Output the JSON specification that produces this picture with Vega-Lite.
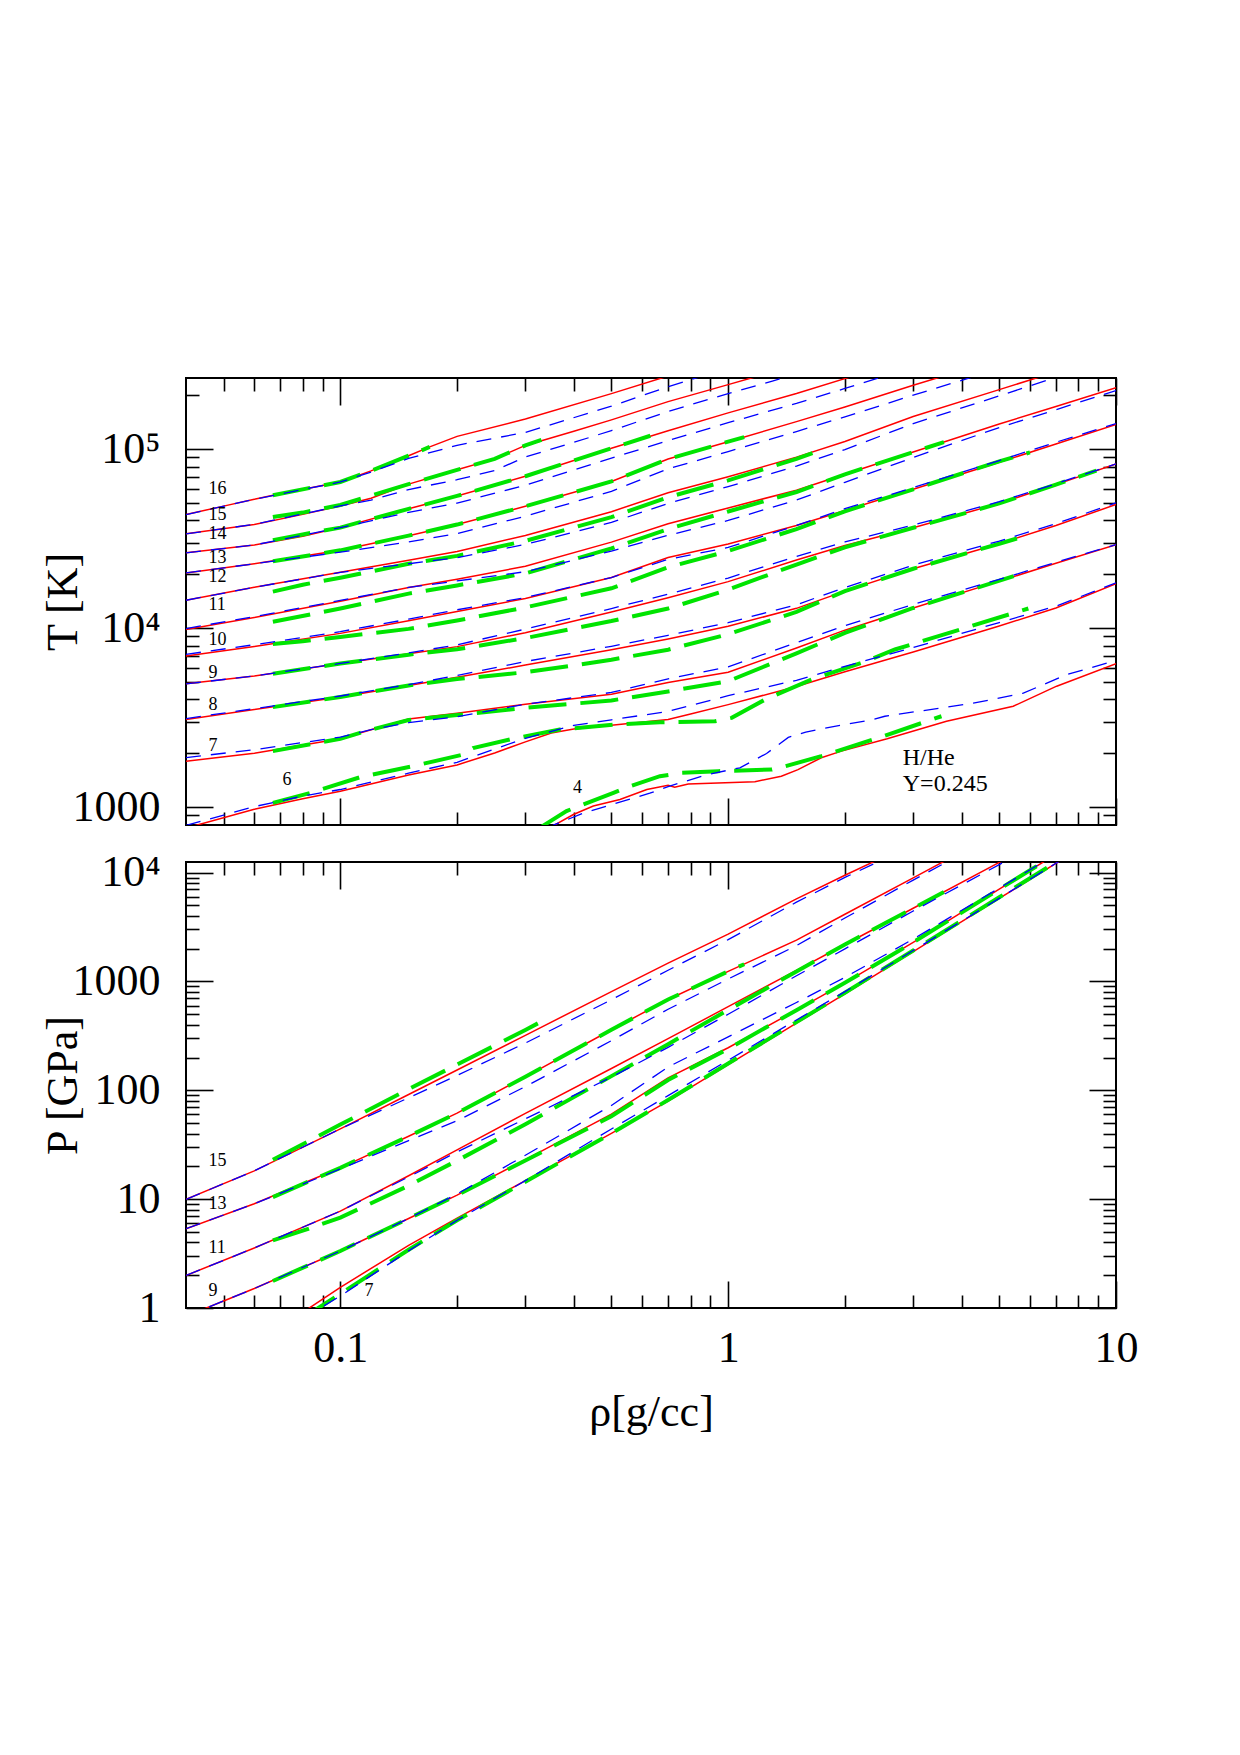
{
  "$schema": "https://vega.github.io/schema/vega-lite/v6.json",
  "autosize": {"type": "none"},
  "padding": {"left": 186, "top": 378, "right": 1054, "bottom": 1377},
  "background": "white",
  "config": {
    "view": {"stroke": "#000000", "strokeWidth": 2},
    "font": "Liberation Serif",
    "axis": {
      "grid": false,
      "domain": false,
      "labels": false,
      "tickColor": "#000000",
      "tickWidth": 1.6,
      "labelFont": "Liberation Serif",
      "labelFontSize": 44,
      "labelColor": "#000000",
      "titleFont": "Liberation Serif",
      "titleFontSize": 44,
      "titleFontWeight": "normal",
      "titleColor": "#000000",
      "labelFlush": false,
      "labelOverlap": false,
      "labelBound": false
    }
  },
  "datasets": {
    "tA": [
      {"s":16,"rho":0.04,"t":43150},{"s":16,"rho":0.05,"t":48100},{"s":16,"rho":0.06,"t":52480},{"s":16,"rho":0.07,"t":56400},{"s":16,"rho":0.1,"t":65600},{"s":16,"rho":0.12,"t":75700},{"s":16,"rho":0.15,"t":92000},{"s":16,"rho":0.17,"t":103000},{"s":16,"rho":0.2,"t":118000},{"s":16,"rho":0.3,"t":147500},{"s":16,"rho":0.5,"t":204500},{"s":16,"rho":0.7,"t":256500},
      {"s":15,"rho":0.04,"t":33650},{"s":15,"rho":0.06,"t":38020},{"s":15,"rho":0.08,"t":43250},{"s":15,"rho":0.1,"t":48200},{"s":15,"rho":0.12,"t":53200},{"s":15,"rho":0.15,"t":63800},{"s":15,"rho":0.2,"t":76700},{"s":15,"rho":0.25,"t":88300},{"s":15,"rho":0.3,"t":105000},{"s":15,"rho":0.4,"t":125900},{"s":15,"rho":0.5,"t":145900},{"s":15,"rho":0.7,"t":184500},{"s":15,"rho":1,"t":229600},{"s":15,"rho":1.2,"t":257000},
      {"s":14,"rho":0.04,"t":26360},{"s":14,"rho":0.06,"t":29170},{"s":14,"rho":0.08,"t":32660},{"s":14,"rho":0.1,"t":36480},{"s":14,"rho":0.15,"t":46450},{"s":14,"rho":0.2,"t":54830},{"s":14,"rho":0.3,"t":70630},{"s":14,"rho":0.5,"t":101200},{"s":14,"rho":0.7,"t":126800},{"s":14,"rho":1,"t":159600},{"s":14,"rho":1.5,"t":204600},{"s":14,"rho":2,"t":248000},{"s":14,"rho":2.5,"t":288400},
      {"s":13,"rho":0.04,"t":20370},{"s":13,"rho":0.06,"t":22910},{"s":13,"rho":0.1,"t":27230},{"s":13,"rho":0.15,"t":32890},{"s":13,"rho":0.2,"t":37930},{"s":13,"rho":0.3,"t":47970},{"s":13,"rho":0.5,"t":66070},{"s":13,"rho":0.7,"t":88100},{"s":13,"rho":1,"t":110200},{"s":13,"rho":1.5,"t":142600},{"s":13,"rho":2,"t":172200},{"s":13,"rho":3,"t":227500},{"s":13,"rho":4,"t":275400},
      {"s":12,"rho":0.04,"t":14320},{"s":12,"rho":0.06,"t":16940},{"s":12,"rho":0.1,"t":20510},{"s":12,"rho":0.15,"t":23990},{"s":12,"rho":0.2,"t":26850},{"s":12,"rho":0.3,"t":32960},{"s":12,"rho":0.5,"t":44770},{"s":12,"rho":0.7,"t":57150},{"s":12,"rho":1,"t":70150},{"s":12,"rho":1.5,"t":90360},{"s":12,"rho":2,"t":110400},{"s":12,"rho":3,"t":152400},{"s":12,"rho":5,"t":215300},{"s":12,"rho":7,"t":270400},
      {"s":11,"rho":0.04,"t":9840},{"s":11,"rho":0.06,"t":11460},{"s":11,"rho":0.1,"t":14130},{"s":11,"rho":0.15,"t":16900},{"s":11,"rho":0.2,"t":18790},{"s":11,"rho":0.3,"t":22180},{"s":11,"rho":0.5,"t":30270},{"s":11,"rho":0.7,"t":38370},{"s":11,"rho":1,"t":46990},{"s":11,"rho":1.5,"t":59020},{"s":11,"rho":2,"t":72440},{"s":11,"rho":3,"t":96380},{"s":11,"rho":5,"t":138400},{"s":11,"rho":7,"t":173400},{"s":11,"rho":10,"t":220300},
      {"s":10,"rho":0.04,"t":6982},{"s":10,"rho":0.06,"t":7907},{"s":10,"rho":0.1,"t":9354},{"s":10,"rho":0.15,"t":10990},{"s":10,"rho":0.2,"t":12390},{"s":10,"rho":0.3,"t":14660},{"s":10,"rho":0.5,"t":19190},{"s":10,"rho":0.7,"t":24830},{"s":10,"rho":1,"t":29580},{"s":10,"rho":1.5,"t":37500},{"s":10,"rho":2,"t":45500},{"s":10,"rho":3,"t":59700},{"s":10,"rho":5,"t":84530},{"s":10,"rho":7,"t":106900},{"s":10,"rho":10,"t":137400},
      {"s":9,"rho":0.04,"t":4887},{"s":9,"rho":0.06,"t":5408},{"s":9,"rho":0.1,"t":6353},{"s":9,"rho":0.15,"t":7194},{"s":9,"rho":0.2,"t":7889},{"s":9,"rho":0.3,"t":9441},{"s":9,"rho":0.5,"t":12300},{"s":9,"rho":0.7,"t":14790},{"s":9,"rho":1,"t":18200},{"s":9,"rho":1.5,"t":24040},{"s":9,"rho":2,"t":28970},{"s":9,"rho":3,"t":36390},{"s":9,"rho":5,"t":49770},{"s":9,"rho":7,"t":63390},{"s":9,"rho":10,"t":82790},
      {"s":8,"rho":0.04,"t":3090},{"s":8,"rho":0.06,"t":3508},{"s":8,"rho":0.1,"t":4130},{"s":8,"rho":0.15,"t":4786},{"s":8,"rho":0.2,"t":5321},{"s":8,"rho":0.3,"t":6223},{"s":8,"rho":0.5,"t":7568},{"s":8,"rho":0.7,"t":8710},{"s":8,"rho":1,"t":10260},{"s":8,"rho":1.5,"t":12910},{"s":8,"rho":2,"t":16110},{"s":8,"rho":3,"t":21480},{"s":8,"rho":5,"t":29650},{"s":8,"rho":7,"t":37500},{"s":8,"rho":10,"t":49090},
      {"s":7,"rho":0.04,"t":1807},{"s":7,"rho":0.06,"t":2000},{"s":7,"rho":0.1,"t":2410},{"s":7,"rho":0.12,"t":2710},{"s":7,"rho":0.15,"t":3105},{"s":7,"rho":0.2,"t":3350},{"s":7,"rho":0.3,"t":3758},{"s":7,"rho":0.5,"t":4276},{"s":7,"rho":0.7,"t":4977},{"s":7,"rho":1,"t":5675},{"s":7,"rho":1.5,"t":7745},{"s":7,"rho":2,"t":9750},{"s":7,"rho":3,"t":12970},{"s":7,"rho":5,"t":18320},{"s":7,"rho":7,"t":23070},{"s":7,"rho":10,"t":29310},
      {"s":6,"rho":0.04,"t":764},{"s":6,"rho":0.06,"t":973},{"s":6,"rho":0.08,"t":1114},{"s":6,"rho":0.1,"t":1227},{"s":6,"rho":0.15,"t":1514},{"s":6,"rho":0.2,"t":1722},{"s":6,"rho":0.25,"t":2009},{"s":6,"rho":0.3,"t":2317},{"s":6,"rho":0.35,"t":2594},{"s":6,"rho":0.4,"t":2735},{"s":6,"rho":0.5,"t":2871},{"s":6,"rho":0.7,"t":3090},{"s":6,"rho":0.8,"t":3319},{"s":6,"rho":1,"t":3741},{"s":6,"rho":1.5,"t":4721},{"s":6,"rho":2,"t":5715},{"s":6,"rho":3,"t":7362},{"s":6,"rho":5,"t":10280},{"s":6,"rho":7,"t":12970},{"s":6,"rho":10,"t":17700},
      {"s":4,"rho":0.339,"t":750},{"s":4,"rho":0.354,"t":787},{"s":4,"rho":0.399,"t":910},{"s":4,"rho":0.449,"t":1014},{"s":4,"rho":0.526,"t":1104},{"s":4,"rho":0.617,"t":1256},{"s":4,"rho":0.7,"t":1327},{"s":4,"rho":0.728,"t":1294},{"s":4,"rho":0.789,"t":1349},{"s":4,"rho":1.172,"t":1387},{"s":4,"rho":1.371,"t":1489},{"s":4,"rho":1.514,"t":1622},{"s":4,"rho":1.738,"t":1888},{"s":4,"rho":1.959,"t":2056},{"s":4,"rho":2.57,"t":2410},{"s":4,"rho":3.656,"t":3020},{"s":4,"rho":5.433,"t":3664},{"s":4,"rho":7.031,"t":4742},{"s":4,"rho":10,"t":6324}
    ],
    "tB": [
      {"s":16,"rho":0.04,"t":43150},{"s":16,"rho":0.06,"t":52480},{"s":16,"rho":0.1,"t":65600},{"s":16,"rho":0.12,"t":74500},{"s":16,"rho":0.15,"t":88870},{"s":16,"rho":0.2,"t":105200},{"s":16,"rho":0.3,"t":124100},{"s":16,"rho":0.5,"t":174000},{"s":16,"rho":0.7,"t":223400},{"s":16,"rho":0.9,"t":264900},
      {"s":15,"rho":0.04,"t":33650},{"s":15,"rho":0.06,"t":38020},{"s":15,"rho":0.1,"t":48200},{"s":15,"rho":0.12,"t":51980},{"s":15,"rho":0.15,"t":59530},{"s":15,"rho":0.2,"t":67570},{"s":15,"rho":0.25,"t":76030},{"s":15,"rho":0.3,"t":90410},{"s":15,"rho":0.4,"t":109200},{"s":15,"rho":0.5,"t":127100},{"s":15,"rho":0.7,"t":162500},{"s":15,"rho":1,"t":204600},{"s":15,"rho":1.3,"t":240400},{"s":15,"rho":1.5,"t":262400},
      {"s":14,"rho":0.04,"t":26360},{"s":14,"rho":0.06,"t":29170},{"s":14,"rho":0.1,"t":36480},{"s":14,"rho":0.15,"t":44360},{"s":14,"rho":0.2,"t":50000},{"s":14,"rho":0.3,"t":62930},{"s":14,"rho":0.5,"t":89160},{"s":14,"rho":0.7,"t":111700},{"s":14,"rho":1,"t":140600},{"s":14,"rho":1.5,"t":180300},{"s":14,"rho":2,"t":218500},{"s":14,"rho":2.5,"t":254100},{"s":14,"rho":3,"t":287100},
      {"s":13,"rho":0.04,"t":20370},{"s":13,"rho":0.06,"t":22910},{"s":13,"rho":0.1,"t":26600},{"s":13,"rho":0.15,"t":30350},{"s":13,"rho":0.2,"t":33800},{"s":13,"rho":0.3,"t":42260},{"s":13,"rho":0.5,"t":58210},{"s":13,"rho":0.7,"t":77620},{"s":13,"rho":1,"t":97090},{"s":13,"rho":1.5,"t":125600},{"s":13,"rho":2,"t":151700},{"s":13,"rho":3,"t":200400},{"s":13,"rho":4,"t":242600},{"s":13,"rho":5,"t":281800},
      {"s":12,"rho":0.04,"t":14320},{"s":12,"rho":0.06,"t":16940},{"s":12,"rho":0.1,"t":20510},{"s":12,"rho":0.15,"t":22910},{"s":12,"rho":0.2,"t":24780},{"s":12,"rho":0.3,"t":29370},{"s":12,"rho":0.5,"t":38990},{"s":12,"rho":0.7,"t":49780},{"s":12,"rho":1,"t":61800},{"s":12,"rho":1.5,"t":80510},{"s":12,"rho":2,"t":99580},{"s":12,"rho":3,"t":139000},{"s":12,"rho":5,"t":198700},{"s":12,"rho":7,"t":252300},{"s":12,"rho":8,"t":276100},
      {"s":11,"rho":0.04,"t":9955},{"s":11,"rho":0.06,"t":11600},{"s":11,"rho":0.1,"t":14300},{"s":11,"rho":0.15,"t":16900},{"s":11,"rho":0.2,"t":18360},{"s":11,"rho":0.3,"t":20690},{"s":11,"rho":0.5,"t":26970},{"s":11,"rho":0.7,"t":33040},{"s":11,"rho":1,"t":39990},{"s":11,"rho":1.5,"t":52000},{"s":11,"rho":2,"t":65340},{"s":11,"rho":3,"t":89920},{"s":11,"rho":5,"t":132200},{"s":11,"rho":7,"t":166300},{"s":11,"rho":10,"t":212800},
      {"s":10,"rho":0.04,"t":7143},{"s":10,"rho":0.06,"t":8089},{"s":10,"rho":0.1,"t":9569},{"s":10,"rho":0.15,"t":11240},{"s":10,"rho":0.2,"t":12670},{"s":10,"rho":0.3,"t":14830},{"s":10,"rho":0.5,"t":19190},{"s":10,"rho":0.7,"t":24260},{"s":10,"rho":1,"t":28250},{"s":10,"rho":1.5,"t":37500},{"s":10,"rho":2,"t":46550},{"s":10,"rho":3,"t":61070},{"s":10,"rho":5,"t":86470},{"s":10,"rho":7,"t":109400},{"s":10,"rho":10,"t":139000},
      {"s":9,"rho":0.04,"t":4887},{"s":9,"rho":0.06,"t":5408},{"s":9,"rho":0.1,"t":6353},{"s":9,"rho":0.15,"t":7280},{"s":9,"rho":0.2,"t":8070},{"s":9,"rho":0.3,"t":9885},{"s":9,"rho":0.5,"t":12880},{"s":9,"rho":0.7,"t":15490},{"s":9,"rho":1,"t":19060},{"s":9,"rho":1.5,"t":25170},{"s":9,"rho":2,"t":30330},{"s":9,"rho":3,"t":37660},{"s":9,"rho":5,"t":50910},{"s":9,"rho":7,"t":64150},{"s":9,"rho":10,"t":82790},
      {"s":8,"rho":0.04,"t":3127},{"s":8,"rho":0.06,"t":3550},{"s":8,"rho":0.1,"t":4180},{"s":8,"rho":0.15,"t":4843},{"s":8,"rho":0.2,"t":5443},{"s":8,"rho":0.3,"t":6515},{"s":8,"rho":0.5,"t":7924},{"s":8,"rho":0.7,"t":9119},{"s":8,"rho":1,"t":10740},{"s":8,"rho":1.5,"t":13520},{"s":8,"rho":2,"t":16870},{"s":8,"rho":3,"t":22490},{"s":8,"rho":5,"t":30690},{"s":8,"rho":7,"t":38360},{"s":8,"rho":10,"t":50220},
      {"s":7,"rho":0.04,"t":1892},{"s":7,"rho":0.06,"t":2094},{"s":7,"rho":0.1,"t":2465},{"s":7,"rho":0.12,"t":2710},{"s":7,"rho":0.15,"t":2965},{"s":7,"rho":0.2,"t":3199},{"s":7,"rho":0.3,"t":3758},{"s":7,"rho":0.5,"t":4374},{"s":7,"rho":0.7,"t":5211},{"s":7,"rho":1,"t":6084},{"s":7,"rho":1.5,"t":8303},{"s":7,"rho":2,"t":10330},{"s":7,"rho":3,"t":13580},{"s":7,"rho":5,"t":18740},{"s":7,"rho":7,"t":23350},{"s":7,"rho":10,"t":29310},
      {"s":6,"rho":0.04,"t":791},{"s":6,"rho":0.06,"t":1007},{"s":6,"rho":0.08,"t":1153},{"s":6,"rho":0.1,"t":1255},{"s":6,"rho":0.15,"t":1549},{"s":6,"rho":0.2,"t":1782},{"s":6,"rho":0.3,"t":2426},{"s":6,"rho":0.4,"t":2864},{"s":6,"rho":0.5,"t":3078},{"s":6,"rho":0.7,"t":3427},{"s":6,"rho":1,"t":4197},{"s":6,"rho":1.5,"t":5117},{"s":6,"rho":2,"t":6127},{"s":6,"rho":3,"t":7796},{"s":6,"rho":5,"t":10760},{"s":6,"rho":7,"t":13270},{"s":6,"rho":10,"t":17910},
      {"s":4,"rho":0.339,"t":741},{"s":4,"rho":0.354,"t":793},{"s":4,"rho":0.423,"t":925},{"s":4,"rho":0.515,"t":1052},{"s":4,"rho":0.628,"t":1197},{"s":4,"rho":0.7,"t":1303},{"s":4,"rho":0.879,"t":1517},{"s":4,"rho":1.072,"t":1660},{"s":4,"rho":1.256,"t":1995},{"s":4,"rho":1.429,"t":2455},{"s":4,"rho":1.585,"t":2630},{"s":4,"rho":1.758,"t":2754},{"s":4,"rho":2.366,"t":3090},{"s":4,"rho":2.535,"t":3221},{"s":4,"rho":4.285,"t":3811},{"s":4,"rho":5.768,"t":4335},{"s":4,"rho":7.464,"t":5508},{"s":4,"rho":10,"t":6590}
    ],
    "tC": [
      {"s":16,"rho":0.067,"t":55340},{"s":16,"rho":0.1,"t":65600},{"s":16,"rho":0.12,"t":75700},{"s":16,"rho":0.15,"t":92000},{"s":16,"rho":0.17,"t":103000},
      {"s":15,"rho":0.067,"t":41780},{"s":15,"rho":0.08,"t":44250},{"s":15,"rho":0.1,"t":48780},{"s":15,"rho":0.15,"t":63800},{"s":15,"rho":0.2,"t":76700},{"s":15,"rho":0.25,"t":88300},{"s":15,"rho":0.3,"t":105000},{"s":15,"rho":0.33,"t":112700},
      {"s":14,"rho":0.067,"t":31050},{"s":14,"rho":0.08,"t":33410},{"s":14,"rho":0.1,"t":36480},{"s":14,"rho":0.15,"t":46450},{"s":14,"rho":0.2,"t":54830},{"s":14,"rho":0.3,"t":70630},{"s":14,"rho":0.5,"t":101200},{"s":14,"rho":0.63,"t":118900},
      {"s":13,"rho":0.067,"t":23660},{"s":13,"rho":0.1,"t":27230},{"s":13,"rho":0.15,"t":32890},{"s":13,"rho":0.2,"t":37930},{"s":13,"rho":0.3,"t":47970},{"s":13,"rho":0.5,"t":66070},{"s":13,"rho":0.7,"t":88100},{"s":13,"rho":1,"t":110200},{"s":13,"rho":1.1,"t":116900},
      {"s":12,"rho":0.067,"t":16000},{"s":12,"rho":0.08,"t":17500},{"s":12,"rho":0.1,"t":19140},{"s":12,"rho":0.15,"t":22910},{"s":12,"rho":0.2,"t":25350},{"s":12,"rho":0.3,"t":30750},{"s":12,"rho":0.5,"t":41770},{"s":12,"rho":0.7,"t":53950},{"s":12,"rho":1,"t":66990},{"s":12,"rho":1.5,"t":88280},{"s":12,"rho":1.78,"t":101200},
      {"s":11,"rho":0.067,"t":10860},{"s":11,"rho":0.1,"t":12890},{"s":11,"rho":0.15,"t":15600},{"s":11,"rho":0.2,"t":17340},{"s":11,"rho":0.3,"t":20230},{"s":11,"rho":0.5,"t":27940},{"s":11,"rho":0.7,"t":35800},{"s":11,"rho":1,"t":44870},{"s":11,"rho":1.5,"t":57670},{"s":11,"rho":2,"t":72440},{"s":11,"rho":3,"t":96380},{"s":11,"rho":3.6,"t":109600},
      {"s":10,"rho":0.067,"t":8166},{"s":10,"rho":0.08,"t":8453},{"s":10,"rho":0.1,"t":8933},{"s":10,"rho":0.15,"t":9913},{"s":10,"rho":0.2,"t":11040},{"s":10,"rho":0.3,"t":13060},{"s":10,"rho":0.5,"t":16710},{"s":10,"rho":0.7,"t":21880},{"s":10,"rho":1,"t":26980},{"s":10,"rho":1.5,"t":35810},{"s":10,"rho":2,"t":45000},{"s":10,"rho":3,"t":59700},{"s":10,"rho":5,"t":85540},{"s":10,"rho":6,"t":95940},
      {"s":9,"rho":0.067,"t":5559},{"s":9,"rho":0.1,"t":6353},{"s":9,"rho":0.15,"t":7113},{"s":9,"rho":0.2,"t":7621},{"s":9,"rho":0.3,"t":8809},{"s":9,"rho":0.5,"t":10960},{"s":9,"rho":0.7,"t":12880},{"s":9,"rho":1,"t":16420},{"s":9,"rho":1.5,"t":22690},{"s":9,"rho":2,"t":28300},{"s":9,"rho":3,"t":36390},{"s":9,"rho":5,"t":49770},{"s":9,"rho":7,"t":63390},{"s":9,"rho":8.9,"t":76030},
      {"s":8,"rho":0.067,"t":3622},{"s":8,"rho":0.1,"t":4130},{"s":8,"rho":0.15,"t":4786},{"s":8,"rho":0.2,"t":5199},{"s":8,"rho":0.3,"t":5675},{"s":8,"rho":0.4,"t":6194},{"s":8,"rho":0.5,"t":6668},{"s":8,"rho":0.7,"t":7586},{"s":8,"rho":1,"t":9255},{"s":8,"rho":1.5,"t":12330},{"s":8,"rho":2,"t":16110},{"s":8,"rho":3,"t":21480},{"s":8,"rho":5,"t":29650},{"s":8,"rho":6,"t":33340},
      {"s":7,"rho":0.067,"t":2056},{"s":7,"rho":0.1,"t":2410},{"s":7,"rho":0.12,"t":2710},{"s":7,"rho":0.15,"t":3070},{"s":7,"rho":0.2,"t":3273},{"s":7,"rho":0.3,"t":3589},{"s":7,"rho":0.5,"t":3947},{"s":7,"rho":0.7,"t":4434},{"s":7,"rho":1,"t":5056},{"s":7,"rho":1.5,"t":7226},{"s":7,"rho":2,"t":9418},{"s":7,"rho":3,"t":12970},{"s":7,"rho":5.6,"t":19910},
      {"s":6,"rho":0.067,"t":1057},{"s":6,"rho":0.0838,"t":1202},{"s":6,"rho":0.1127,"t":1472},{"s":6,"rho":0.1535,"t":1694},{"s":6,"rho":0.2075,"t":1968},{"s":6,"rho":0.2198,"t":2138},{"s":6,"rho":0.2735,"t":2388},{"s":6,"rho":0.3681,"t":2716},{"s":6,"rho":0.5152,"t":2897},{"s":6,"rho":0.6668,"t":2979},{"s":6,"rho":0.9247,"t":3020},{"s":6,"rho":1.021,"t":3155},{"s":6,"rho":1.245,"t":3990},{"s":6,"rho":1.641,"t":5164},{"s":6,"rho":2.208,"t":6397},{"s":6,"rho":2.692,"t":7603},{"s":6,"rho":5.943,"t":12880},
      {"s":4,"rho":0.324,"t":750},{"s":4,"rho":0.333,"t":787},{"s":4,"rho":0.383,"t":951},{"s":4,"rho":0.423,"t":1035},{"s":4,"rho":0.506,"t":1202},{"s":4,"rho":0.558,"t":1309},{"s":4,"rho":0.667,"t":1489},{"s":4,"rho":0.759,"t":1556},{"s":4,"rho":0.944,"t":1589},{"s":4,"rho":1.297,"t":1622},{"s":4,"rho":1.406,"t":1694},{"s":4,"rho":1.738,"t":1928},{"s":4,"rho":2.46,"t":2455},{"s":4,"rho":3.548,"t":3221}
    ],
    "tlab": [
      {"s":"16","rho":0.0457,"t":60000},{"s":"15","rho":0.0457,"t":42800},{"s":"14","rho":0.0457,"t":33650},{"s":"13","rho":0.0457,"t":24700},{"s":"12","rho":0.0457,"t":19280},{"s":"11","rho":0.0457,"t":13550},{"s":"10","rho":0.0457,"t":8630},{"s":"9","rho":0.0457,"t":5623},{"s":"8","rho":0.0457,"t":3740},{"s":"7","rho":0.0457,"t":2190},{"s":"6","rho":0.0709,"t":1426},{"s":"4","rho":0.398,"t":1282}
    ],
    "note": [
      {"txt":"H/He","rho":2.82,"t":1723},{"txt":"Y=0.245","rho":2.82,"t":1233}
    ],
    "bA": [
      {"s":15,"rho":0.04,"p":9.95},{"s":15,"rho":0.06,"p":18.2},{"s":15,"rho":0.1,"p":44.2},{"s":15,"rho":0.15,"p":91.4},{"s":15,"rho":0.2,"p":153.5},{"s":15,"rho":0.3,"p":319.2},{"s":15,"rho":0.5,"p":807},{"s":15,"rho":0.7,"p":1472},{"s":15,"rho":1,"p":2716},{"s":15,"rho":1.5,"p":5728},{"s":15,"rho":2,"p":9441},{"s":15,"rho":2.5,"p":13740},
      {"s":13,"rho":0.04,"p":5.35},{"s":13,"rho":0.06,"p":9.06},{"s":13,"rho":0.1,"p":19.4},{"s":13,"rho":0.15,"p":37.8},{"s":13,"rho":0.2,"p":61.7},{"s":13,"rho":0.3,"p":133},{"s":13,"rho":0.5,"p":359.7},{"s":13,"rho":0.7,"p":682.3},{"s":13,"rho":1,"p":1236},{"s":13,"rho":1.5,"p":2393},{"s":13,"rho":2,"p":4140},{"s":13,"rho":3,"p":8933},{"s":13,"rho":4,"p":15490},
      {"s":11,"rho":0.04,"p":1.99},{"s":11,"rho":0.06,"p":3.56},{"s":11,"rho":0.1,"p":7.76},{"s":11,"rho":0.15,"p":16.4},{"s":11,"rho":0.2,"p":28.4},{"s":11,"rho":0.3,"p":61.4},{"s":11,"rho":0.5,"p":158.5},{"s":11,"rho":0.7,"p":297.8},{"s":11,"rho":1,"p":586.1},{"s":11,"rho":1.5,"p":1265},{"s":11,"rho":2,"p":2183},{"s":11,"rho":3,"p":4699},{"s":11,"rho":5,"p":12390},{"s":11,"rho":5.5,"p":14790},
      {"s":9,"rho":0.04,"p":0.84},{"s":9,"rho":0.05,"p":1.16},{"s":9,"rho":0.06,"p":1.51},{"s":9,"rho":0.1,"p":3.34},{"s":9,"rho":0.15,"p":6.64},{"s":9,"rho":0.2,"p":10.9},{"s":9,"rho":0.3,"p":23.1},{"s":9,"rho":0.5,"p":60.4},{"s":9,"rho":0.7,"p":130},{"s":9,"rho":1,"p":246},{"s":9,"rho":1.5,"p":544.5},{"s":9,"rho":2,"p":970.5},{"s":9,"rho":3,"p":2286},{"s":9,"rho":5,"p":7031},{"s":9,"rho":7,"p":14720},
      {"s":7,"rho":0.08,"p":0.912},{"s":7,"rho":0.1,"p":1.55},{"s":7,"rho":0.15,"p":3.76},{"s":7,"rho":0.2,"p":6.7},{"s":7,"rho":0.3,"p":14.8},{"s":7,"rho":0.5,"p":40.2},{"s":7,"rho":0.7,"p":79.6},{"s":7,"rho":1,"p":172.2},{"s":7,"rho":1.5,"p":413},{"s":7,"rho":2,"p":769.1},{"s":7,"rho":3,"p":1879},{"s":7,"rho":5,"p":5794},{"s":7,"rho":7,"p":12160},{"s":7,"rho":8,"p":16220}
    ],
    "bB": [
      {"s":15,"rho":0.04,"p":9.95},{"s":15,"rho":0.06,"p":18.2},{"s":15,"rho":0.1,"p":44.2},{"s":15,"rho":0.15,"p":85.3},{"s":15,"rho":0.2,"p":136.8},{"s":15,"rho":0.3,"p":271.6},{"s":15,"rho":0.5,"p":678.8},{"s":15,"rho":0.7,"p":1267},{"s":15,"rho":1,"p":2420},{"s":15,"rho":1.5,"p":5344},{"s":15,"rho":2,"p":9016},{"s":15,"rho":2.5,"p":13120},
      {"s":13,"rho":0.04,"p":5.35},{"s":13,"rho":0.06,"p":9.06},{"s":13,"rho":0.1,"p":18.95},{"s":13,"rho":0.15,"p":34.5},{"s":13,"rho":0.2,"p":52.5},{"s":13,"rho":0.3,"p":108.1},{"s":13,"rho":0.5,"p":285.7},{"s":13,"rho":0.7,"p":554.7},{"s":13,"rho":1,"p":1052},{"s":13,"rho":1.5,"p":2132},{"s":13,"rho":2,"p":3821},{"s":13,"rho":3,"p":8531},{"s":13,"rho":4,"p":14790},
      {"s":11,"rho":0.04,"p":1.99},{"s":11,"rho":0.06,"p":3.56},{"s":11,"rho":0.1,"p":7.76},{"s":11,"rho":0.15,"p":16},{"s":11,"rho":0.2,"p":27.1},{"s":11,"rho":0.3,"p":54.7},{"s":11,"rho":0.5,"p":131.9},{"s":11,"rho":0.7,"p":247.8},{"s":11,"rho":1,"p":498.8},{"s":11,"rho":1.5,"p":1127},{"s":11,"rho":2,"p":1991},{"s":11,"rho":3,"p":4436},{"s":11,"rho":5,"p":11830},{"s":11,"rho":5.5,"p":14120},
      {"s":9,"rho":0.04,"p":0.84},{"s":9,"rho":0.05,"p":1.16},{"s":9,"rho":0.06,"p":1.51},{"s":9,"rho":0.1,"p":3.34},{"s":9,"rho":0.15,"p":6.64},{"s":9,"rho":0.2,"p":11.15},{"s":9,"rho":0.3,"p":25.3},{"s":9,"rho":0.5,"p":72.6},{"s":9,"rho":0.7,"p":163.7},{"s":9,"rho":1,"p":309.7},{"s":9,"rho":1.5,"p":639.8},{"s":9,"rho":2,"p":1089},{"s":9,"rho":3,"p":2451},{"s":9,"rho":5,"p":7193},{"s":9,"rho":7,"p":14720},
      {"s":7,"rho":0.08,"p":0.794},{"s":7,"rho":0.1,"p":1.29},{"s":7,"rho":0.15,"p":3.35},{"s":7,"rho":0.2,"p":6.4},{"s":7,"rho":0.3,"p":14.8},{"s":7,"rho":0.5,"p":44.1},{"s":7,"rho":0.7,"p":89.3},{"s":7,"rho":1,"p":188.7},{"s":7,"rho":1.5,"p":442.7},{"s":7,"rho":2,"p":805.3},{"s":7,"rho":3,"p":1922},{"s":7,"rho":5,"p":5794},{"s":7,"rho":7,"p":12160},{"s":7,"rho":8,"p":16220}
    ],
    "bC": [
      {"s":15,"rho":0.067,"p":23},{"s":15,"rho":0.1,"p":48.4},{"s":15,"rho":0.15,"p":102.6},{"s":15,"rho":0.2,"p":172.2},{"s":15,"rho":0.3,"p":358.1},{"s":15,"rho":0.33,"p":428.5},
      {"s":13,"rho":0.067,"p":10.45},{"s":13,"rho":0.1,"p":19.4},{"s":13,"rho":0.15,"p":37.8},{"s":13,"rho":0.2,"p":61.7},{"s":13,"rho":0.3,"p":133},{"s":13,"rho":0.5,"p":359.7},{"s":13,"rho":0.7,"p":682.3},{"s":13,"rho":1,"p":1236},{"s":13,"rho":1.1,"p":1439},
      {"s":11,"rho":0.067,"p":4.18},{"s":11,"rho":0.08,"p":5.13},{"s":11,"rho":0.1,"p":6.76},{"s":11,"rho":0.15,"p":13.3},{"s":11,"rho":0.2,"p":22.6},{"s":11,"rho":0.3,"p":48.8},{"s":11,"rho":0.5,"p":134.9},{"s":11,"rho":0.7,"p":265.3},{"s":11,"rho":1,"p":546.8},{"s":11,"rho":1.5,"p":1236},{"s":11,"rho":2,"p":2183},{"s":11,"rho":3,"p":4699},{"s":11,"rho":3.6,"p":6637},
      {"s":9,"rho":0.067,"p":1.77},{"s":9,"rho":0.1,"p":3.34},{"s":9,"rho":0.15,"p":6.64},{"s":9,"rho":0.2,"p":10.9},{"s":9,"rho":0.3,"p":22.6},{"s":9,"rho":0.5,"p":57.7},{"s":9,"rho":0.7,"p":124.2},{"s":9,"rho":1,"p":240.3},{"s":9,"rho":1.5,"p":544.5},{"s":9,"rho":2,"p":970.5},{"s":9,"rho":3,"p":2286},{"s":9,"rho":5,"p":7031},{"s":9,"rho":7,"p":14720},
      {"s":7,"rho":0.08,"p":0.81},{"s":7,"rho":0.1,"p":1.35},{"s":7,"rho":0.15,"p":3.43},{"s":7,"rho":0.2,"p":6.4},{"s":7,"rho":0.3,"p":14.46},{"s":7,"rho":0.5,"p":40.2},{"s":7,"rho":0.7,"p":81.4},{"s":7,"rho":1,"p":176.2},{"s":7,"rho":1.5,"p":422.5},{"s":7,"rho":2,"p":786.8},{"s":7,"rho":3,"p":1922},{"s":7,"rho":5,"p":5927},{"s":7,"rho":7,"p":12440},{"s":7,"rho":8,"p":16590}
    ],
    "blab": [
      {"s":"15","rho":0.0457,"p":22.4},{"s":"13","rho":0.0457,"p":9.08},{"s":"11","rho":0.0457,"p":3.57},{"s":"9","rho":0.0457,"p":1.43},{"s":"7","rho":0.1155,"p":1.43}
    ]
  },
  "bounds": "flush",
  "spacing": 37,
  "vconcat": [
    {
      "width": 930,
      "height": 447,
      "resolve": {"axis": {"x": "independent", "y": "independent"}},
      "layer": [
        {
          "data": {"name": "tA"},
          "mark": {"type": "line", "color": "#ff0000", "strokeWidth": 1.5, "clip": true},
          "encoding": {
            "x": {"field": "rho", "type": "quantitative", "scale": {"type": "log", "domain": [0.04, 10], "nice": false},
                  "axis": {"orient": "bottom", "values": [0.1, 1, 10], "tickSize": -27, "title": null}},
            "y": {"field": "t", "type": "quantitative", "scale": {"type": "log", "domain": [795, 250000], "nice": false},
                  "axis": {"orient": "left", "values": [1000, 10000, 100000], "tickSize": -27, "labels": true, "labelPadding": 53,
                           "labelBaseline": "middle", "labelAlign": "right",
                           "labelExpr": "datum.value >= 100000 ? '10⁵' : datum.value >= 10000 ? '10⁴' : '1000'",
                           "title": "T [K]", "titleAngle": -90, "titleX": -110, "titleY": 223.5, "titleAlign": "center", "titleBaseline": "alphabetic"}},
            "detail": {"field": "s", "type": "nominal"}
          }
        },
        {
          "data": {"name": "tC"},
          "mark": {"type": "line", "color": "#00e400", "strokeWidth": 4, "strokeDash": [38, 14], "clip": true},
          "encoding": {
            "x": {"field": "rho", "type": "quantitative", "scale": {"type": "log", "domain": [0.04, 10], "nice": false},
                  "axis": {"orient": "top", "values": [0.1, 1, 10], "tickSize": -27, "title": null}},
            "y": {"field": "t", "type": "quantitative", "scale": {"type": "log", "domain": [795, 250000], "nice": false},
                  "axis": {"orient": "left", "values": [900, 2000, 3000, 4000, 5000, 6000, 7000, 8000, 9000, 20000, 30000, 40000, 50000, 60000, 70000, 80000, 90000, 200000], "tickSize": -13, "title": null}},
            "detail": {"field": "s", "type": "nominal"}
          }
        },
        {
          "data": {"name": "tB"},
          "mark": {"type": "line", "color": "#0000ff", "strokeWidth": 1.3, "strokeDash": [15, 10], "clip": true},
          "encoding": {
            "x": {"field": "rho", "type": "quantitative", "scale": {"type": "log", "domain": [0.04, 10], "nice": false},
                  "axis": {"orient": "bottom", "values": [0.05, 0.06, 0.07, 0.08, 0.09, 0.2, 0.3, 0.4, 0.5, 0.6, 0.7, 0.8, 0.9, 2, 3, 4, 5, 6, 7, 8, 9], "tickSize": -13, "title": null}},
            "y": {"field": "t", "type": "quantitative", "scale": {"type": "log", "domain": [795, 250000], "nice": false},
                  "axis": {"orient": "right", "values": [1000, 10000, 100000], "tickSize": -27, "title": null}},
            "detail": {"field": "s", "type": "nominal"}
          }
        },
        {
          "data": {"name": "tlab"},
          "mark": {"type": "text", "align": "left", "baseline": "middle", "fontSize": 18, "font": "Liberation Serif", "color": "#000000"},
          "encoding": {
            "x": {"field": "rho", "type": "quantitative", "scale": {"type": "log", "domain": [0.04, 10], "nice": false},
                  "axis": {"orient": "top", "values": [0.05, 0.06, 0.07, 0.08, 0.09, 0.2, 0.3, 0.4, 0.5, 0.6, 0.7, 0.8, 0.9, 2, 3, 4, 5, 6, 7, 8, 9], "tickSize": -13, "title": null}},
            "y": {"field": "t", "type": "quantitative", "scale": {"type": "log", "domain": [795, 250000], "nice": false},
                  "axis": {"orient": "right", "values": [900, 2000, 3000, 4000, 5000, 6000, 7000, 8000, 9000, 20000, 30000, 40000, 50000, 60000, 70000, 80000, 90000, 200000], "tickSize": -13, "title": null}},
            "text": {"field": "s", "type": "nominal"}
          }
        },
        {
          "data": {"name": "note"},
          "mark": {"type": "text", "align": "left", "baseline": "alphabetic", "fontSize": 24, "font": "Liberation Serif", "color": "#000000"},
          "encoding": {
            "x": {"field": "rho", "type": "quantitative", "scale": {"type": "log", "domain": [0.04, 10], "nice": false}, "axis": null},
            "y": {"field": "t", "type": "quantitative", "scale": {"type": "log", "domain": [795, 250000], "nice": false}, "axis": null},
            "text": {"field": "txt", "type": "nominal"}
          }
        }
      ]
    },
    {
      "width": 930,
      "height": 446,
      "resolve": {"axis": {"x": "independent", "y": "independent"}},
      "layer": [
        {
          "data": {"name": "bA"},
          "mark": {"type": "line", "color": "#ff0000", "strokeWidth": 1.5, "clip": true},
          "encoding": {
            "x": {"field": "rho", "type": "quantitative", "scale": {"type": "log", "domain": [0.04, 10], "nice": false},
                  "axis": {"orient": "bottom", "values": [0.1, 1, 10], "tickSize": -27, "labels": true, "labelPadding": 45,
                           "labelBaseline": "top", "labelAlign": "center",
                           "labelExpr": "datum.value < 0.5 ? '0.1' : datum.value < 5 ? '1' : '10'",
                           "title": "ρ[g/cc]", "titleX": 465, "titleY": 117, "titleAlign": "center", "titleBaseline": "alphabetic", "titleAngle": 0}},
            "y": {"field": "p", "type": "quantitative", "scale": {"type": "log", "domain": [1, 12500], "nice": false},
                  "axis": {"orient": "left", "values": [1, 10, 100, 1000, 10000], "tickSize": -27, "labels": true, "labelPadding": 53,
                           "labelBaseline": "middle", "labelAlign": "right",
                           "labelExpr": "datum.value >= 10000 ? '10⁴' : format(datum.value, 'd')",
                           "title": "P [GPa]", "titleAngle": -90, "titleX": -110, "titleY": 223, "titleAlign": "center", "titleBaseline": "alphabetic"}},
            "detail": {"field": "s", "type": "nominal"}
          }
        },
        {
          "data": {"name": "bC"},
          "mark": {"type": "line", "color": "#00e400", "strokeWidth": 4, "strokeDash": [38, 14], "clip": true},
          "encoding": {
            "x": {"field": "rho", "type": "quantitative", "scale": {"type": "log", "domain": [0.04, 10], "nice": false},
                  "axis": {"orient": "top", "values": [0.1, 1, 10], "tickSize": -27, "title": null}},
            "y": {"field": "p", "type": "quantitative", "scale": {"type": "log", "domain": [1, 12500], "nice": false},
                  "axis": {"orient": "left", "values": [2, 3, 4, 5, 6, 7, 8, 9, 20, 30, 40, 50, 60, 70, 80, 90, 200, 300, 400, 500, 600, 700, 800, 900, 2000, 3000, 4000, 5000, 6000, 7000, 8000, 9000], "tickSize": -13, "title": null}},
            "detail": {"field": "s", "type": "nominal"}
          }
        },
        {
          "data": {"name": "bB"},
          "mark": {"type": "line", "color": "#0000ff", "strokeWidth": 1.3, "strokeDash": [15, 10], "clip": true},
          "encoding": {
            "x": {"field": "rho", "type": "quantitative", "scale": {"type": "log", "domain": [0.04, 10], "nice": false},
                  "axis": {"orient": "bottom", "values": [0.05, 0.06, 0.07, 0.08, 0.09, 0.2, 0.3, 0.4, 0.5, 0.6, 0.7, 0.8, 0.9, 2, 3, 4, 5, 6, 7, 8, 9], "tickSize": -13, "title": null}},
            "y": {"field": "p", "type": "quantitative", "scale": {"type": "log", "domain": [1, 12500], "nice": false},
                  "axis": {"orient": "right", "values": [1, 10, 100, 1000, 10000], "tickSize": -27, "title": null}},
            "detail": {"field": "s", "type": "nominal"}
          }
        },
        {
          "data": {"name": "blab"},
          "mark": {"type": "text", "align": "left", "baseline": "middle", "fontSize": 18, "font": "Liberation Serif", "color": "#000000"},
          "encoding": {
            "x": {"field": "rho", "type": "quantitative", "scale": {"type": "log", "domain": [0.04, 10], "nice": false},
                  "axis": {"orient": "top", "values": [0.05, 0.06, 0.07, 0.08, 0.09, 0.2, 0.3, 0.4, 0.5, 0.6, 0.7, 0.8, 0.9, 2, 3, 4, 5, 6, 7, 8, 9], "tickSize": -13, "title": null}},
            "y": {"field": "p", "type": "quantitative", "scale": {"type": "log", "domain": [1, 12500], "nice": false},
                  "axis": {"orient": "right", "values": [2, 3, 4, 5, 6, 7, 8, 9, 20, 30, 40, 50, 60, 70, 80, 90, 200, 300, 400, 500, 600, 700, 800, 900, 2000, 3000, 4000, 5000, 6000, 7000, 8000, 9000], "tickSize": -13, "title": null}},
            "text": {"field": "s", "type": "nominal"}
          }
        }
      ]
    }
  ]
}
